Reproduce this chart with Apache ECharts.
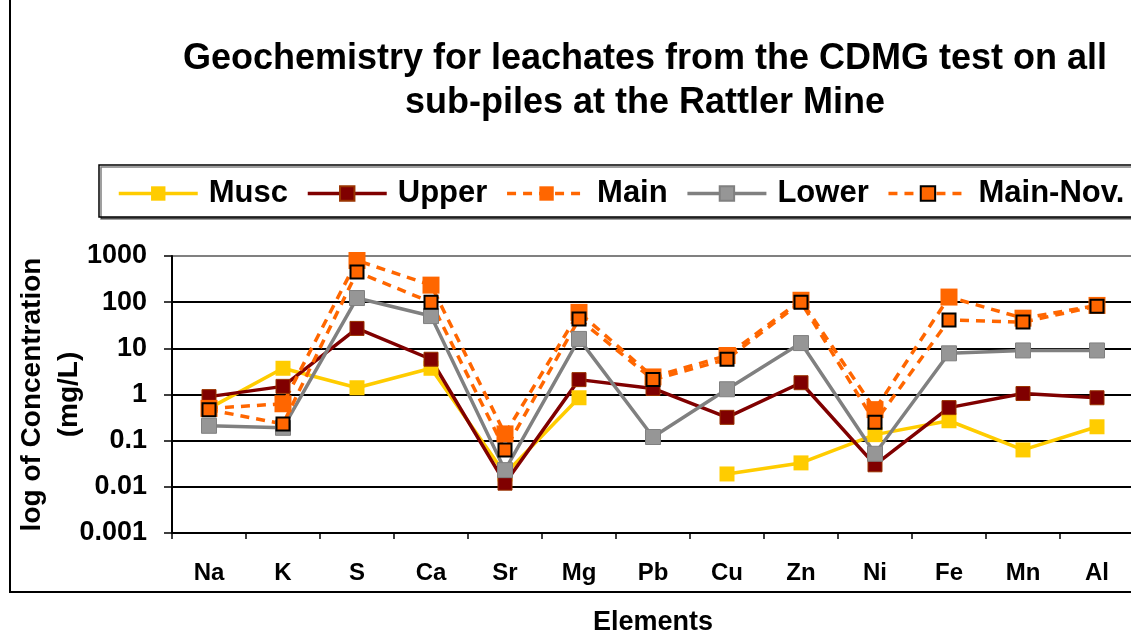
<!DOCTYPE html>
<html>
<head>
<meta charset="utf-8">
<script src="https://cdn.jsdelivr.net/npm/echarts@6/dist/echarts.min.js"></script>
<style>
  html, body { margin: 0; padding: 0; background: #fff; }
  #chart { width: 1131px; height: 634px; }
</style>
</head>
<body>
<div id="chart"></div>
<script>
    // element names on the x axis
    var elements = ['Na', 'K', 'S', 'Ca', 'Sr', 'Mg', 'Pb', 'Cu', 'Zn', 'Ni', 'Fe', 'Mn', 'Al'];
    var yTickLabels = ['0.001', '0.01', '0.1', '1', '10', '100', '1000'];

    // concentrations in mg/L
    var musc    = [0.5, 3.7, 1.4, 3.7, 0.019, 0.85, null, 0.019, 0.033, 0.135, 0.27, 0.063, 0.2];
    var upper   = [0.9, 1.5, 27, 5.8, 0.012, 2.1, 1.35, 0.32, 1.8, 0.03, 0.52, 1.05, 0.85];
    var main    = [0.5, 0.63, 800, 234, 0.14, 60, 2.4, 7, 110, 0.47, 129, 45, 85];
    var lower   = [0.21, 0.19, 123, 50, 0.023, 16, 0.12, 1.3, 13, 0.052, 7.8, 9, 9];
    var mainNov = [0.47, 0.23, 450, 100, 0.063, 43, 2.1, 5.8, 100, 0.25, 41, 37, 82];

    var font = '"Liberation Sans", Arial, sans-serif';
    var chart = echarts.init(document.getElementById('chart'));

    var option = {
        animation: false,
        backgroundColor: '#fff',
        textStyle: { fontFamily: font },
        title: {
            text: 'Geochemistry for leachates from the CDMG test on all\nsub-piles at the Rattler Mine',
            left: 640,
            top: 32,
            textAlign: 'center',
            textStyle: { fontSize: 36, fontWeight: 'bold', color: '#000', lineHeight: 44, fontFamily: font }
        },
        graphic: [
            {   // outer frame
                type: 'rect',
                shape: { x: 10, y: -5, width: 1200, height: 597 },
                style: { fill: 'none', stroke: '#000', lineWidth: 2 },
                z: 0
            },
            {   // legend box
                type: 'rect',
                shape: { x: 99, y: 165, width: 1100, height: 52 },
                style: { fill: '#fff', stroke: '#000', lineWidth: 1.5, shadowColor: 'rgba(0,0,0,0.5)', shadowOffsetX: 2, shadowOffsetY: 2 },
                z: 1
            }
        ],
        legend: {
            left: 112,
            top: 173,
            itemWidth: 79,
            itemHeight: 18,
            itemGap: 18,
            z: 5,
            lineStyle: { width: 3.5 },
            textStyle: { fontSize: 31, fontWeight: 'bold', color: '#000', padding: [0, 0, 0, 6], fontFamily: font },
            data: ['Musc', 'Upper', 'Main', 'Lower', 'Main-Nov.']
        },
        grid: { left: 172, right: -3, top: 256, bottom: 101, containLabel: false, outerBoundsMode: 'none' },
        xAxis: {
            type: 'category',
            data: elements,
            boundaryGap: true,
            name: 'Elements',
            nameLocation: 'middle',
            nameGap: 76,
            nameMoveOverlap: false,
            nameTextStyle: { fontSize: 27, fontWeight: 'bold', color: '#000' },
            axisLine: { lineStyle: { color: '#000', width: 2 } },
            axisTick: { show: true, length: 6, inside: false, lineStyle: { color: '#000', width: 1.5 } },
            axisLabel: { fontSize: 24, fontWeight: 'bold', color: '#000', margin: 28 },
            splitLine: { show: false }
        },
        yAxis: {
            type: 'log',
            logBase: 10,
            min: 0.001,
            max: 1000,
            name: 'log of Concentration\n(mg/L)',
            nameLocation: 'middle',
            nameGap: 84,
            nameMoveOverlap: false,
            nameTextStyle: { fontSize: 28, fontWeight: 'bold', color: '#000', lineHeight: 37 },
            axisLine: { show: true, lineStyle: { color: '#000', width: 2 } },
            axisTick: { show: true, length: 8, lineStyle: { color: '#000', width: 1.5 } },
            axisLabel: {
                fontSize: 27, fontWeight: 'bold', color: '#000', margin: 25,
                formatter: function (v) {
                    return yTickLabels[Math.round(Math.log10(v)) + 3];
                }
            },
            splitLine: {
                show: true,
                lineStyle: { color: ['#000', '#000', '#000', '#000', '#000', '#000', '#808080'], width: 2 }
            }
        },
        series: [
            {
                name: 'Musc', type: 'line', data: musc, connectNulls: false,
                symbol: 'rect', symbolSize: 15,
                lineStyle: { color: '#FFCC00', width: 3.5 },
                itemStyle: { color: '#FFCC00' }
            },
            {
                name: 'Upper', type: 'line', data: upper,
                symbol: 'rect', symbolSize: 14,
                lineStyle: { color: '#800000', width: 3.5 },
                itemStyle: { color: '#800000', borderColor: '#993300', borderWidth: 1 }
            },
            {
                name: 'Main', type: 'line', data: main,
                symbol: 'rect', symbolSize: 17,
                lineStyle: { color: '#FF6600', width: 3.5, type: [9, 7] },
                itemStyle: { color: '#FF6600' }
            },
            {
                name: 'Lower', type: 'line', data: lower,
                symbol: 'rect', symbolSize: 15,
                lineStyle: { color: '#808080', width: 3.5 },
                itemStyle: { color: '#969696', borderColor: '#808080', borderWidth: 1 }
            },
            {
                name: 'Main-Nov.', type: 'line', data: mainNov,
                symbol: 'rect', symbolSize: 13,
                lineStyle: { color: '#FF6600', width: 3.5, type: [9, 7] },
                itemStyle: { color: '#FF6600', borderColor: '#000', borderWidth: 2 }
            }
        ]
    };

    chart.setOption(option);
</script>
</body>
</html>
